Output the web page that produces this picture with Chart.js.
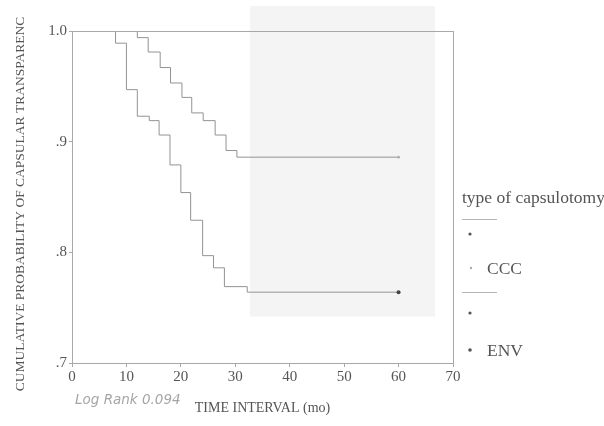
<!DOCTYPE html>
<html>
<head>
<meta charset="utf-8">
<script src="https://cdn.jsdelivr.net/npm/chart.js@4/dist/chart.umd.min.js"></script>
<style>
  body { margin: 0; background: #fff; }
  #wrap { width: 604px; height: 426px; }
</style>
</head>
<body>
<div id="wrap"><canvas id="km" width="604" height="426"></canvas></div>
<script>
// survival step points
const envTimes = [0, 8, 10, 12, 14.2, 16, 18, 20, 21.8, 24, 26, 28, 32.2, 60];
const envSurv = [1, .989, .947, .923, .919, .906, .879, .854, .829, .797, .786, .769, .764, .764];
const cccTimes = [0, 12, 14, 16.2, 18.1, 20.2, 22, 24.1, 26.3, 28.3, 30.3, 60];
const cccSurv = [1, .994, .981, .967, .953, .940, .926, .919, .906, .892, .886, .886];

const xTicks = [0, 10, 20, 30, 40, 50, 60, 70];
const yTicks = [.7, .8, .9, 1.0];
const yTickLabels = ['.7', '.8', '.9', '1.0'];

const legendTitle = 'type of capsulotomy';
const groupNames = ['CCC', 'ENV'];
const yTitle = 'CUMULATIVE PROBABILITY OF CAPSULAR TRANSPARENC';
const xTitle = 'TIME INTERVAL (mo)';
const note = 'Log Rank 0.094';

const ink = '#939393';
const txt = '#555';
const serif = '"Liberation Serif", "DejaVu Serif", serif';

function toPoints(ts, vs) {
    return ts.map((t, i) => ({ x: t, y: vs[i] }));
}

// last point gets the censor dot
function endDot(n, r) {
    return ctx => ctx.dataIndex === n - 1 ? r : 0;
}

const decor = {
    id: 'decor',
    beforeDraw(chart) {
        const c = chart.ctx;
        const xs = chart.scales.x, ys = chart.scales.y;
        // faint scan shading
        c.save();
        c.fillStyle = '#f4f4f4';
        const x0 = xs.getPixelForValue(32.7), x1 = xs.getPixelForValue(66.7);
        const y1 = ys.getPixelForValue(.742);
        c.fillRect(x0, 6, x1 - x0, y1 - 6);
        c.restore();
    },
    afterDraw(chart) {
        const c = chart.ctx;
        const a = chart.chartArea;
        c.save();
        // frame
        c.strokeStyle = '#a8a8a8';
        c.lineWidth = 1;
        c.strokeRect(a.left + 0.5, a.top + 0.5, a.right - a.left, a.bottom - a.top);

        // axis titles
        c.fillStyle = txt;
        c.textAlign = 'center';
        c.textBaseline = 'middle';
        c.font = '14px ' + serif;
        c.fillText(xTitle, (a.left + a.right) / 2, 408);

        c.save();
        c.translate(20, 204);
        c.rotate(-Math.PI / 2);
        c.font = '13.5px ' + serif;
        c.fillText(yTitle, 0, 0);
        c.restore();

        // handwritten note
        c.fillStyle = '#a5a5a5';
        c.textAlign = 'left';
        c.font = 'italic 13.5px "DejaVu Sans", sans-serif';
        c.fillText(note, 75, 400);

        // legend
        c.fillStyle = txt;
        c.font = '17.5px ' + serif;
        c.fillText(legendTitle, 462, 198);
        c.strokeStyle = '#b5b5b5';
        c.beginPath();
        c.moveTo(462, 219.5); c.lineTo(497, 219.5);
        c.moveTo(462, 292.5); c.lineTo(497, 292.5);
        c.stroke();

        const dots = [[470, 234, 1.6, '#555'], [471, 268, 1.2, '#aaa'], [470, 313, 1.6, '#555'], [470, 350, 1.8, '#555']];
        dots.forEach(d => {
            c.fillStyle = d[3];
            c.beginPath();
            c.arc(d[0], d[1], d[2], 0, Math.PI * 2);
            c.fill();
        });
        c.fillStyle = txt;
        c.fillText(groupNames[0], 487, 269);
        c.fillText(groupNames[1], 487, 351);
        c.restore();
    }
};

new Chart(document.getElementById('km'), {
    type: 'line',
    data: {
        datasets: [{
            label: groupNames[0],
            data: toPoints(cccTimes, cccSurv),
            stepped: true,
            borderColor: ink,
            borderWidth: 1,
            pointRadius: endDot(cccTimes.length, 1.3),
            pointBackgroundColor: '#aaa',
            pointBorderWidth: 0
        }, {
            label: groupNames[1],
            data: toPoints(envTimes, envSurv),
            stepped: true,
            borderColor: ink,
            borderWidth: 1,
            pointRadius: endDot(envTimes.length, 2),
            pointBackgroundColor: '#444',
            pointBorderWidth: 0
        }]
    },
    options: {
        responsive: false,
        animation: false,
        layout: { padding: { left: 0, right: 151, top: 31, bottom: 0 } },
        plugins: {
            legend: { display: false },
            tooltip: { enabled: false }
        },
        scales: {
            x: {
                type: 'linear',
                min: 0,
                max: 70,
                afterBuildTicks: s => { s.ticks = xTicks.map(v => ({ value: v })); },
                afterFit: s => { s.height = 63; },
                grid: { drawOnChartArea: false, tickLength: 4, color: '#a8a8a8' },
                border: { color: '#a8a8a8' },
                ticks: { color: txt, font: { family: serif, size: 15 }, padding: 1, maxRotation: 0 }
            },
            y: {
                type: 'linear',
                min: .7,
                max: 1.0,
                afterBuildTicks: s => { s.ticks = yTicks.map(v => ({ value: v })); },
                afterFit: s => { s.width = 72; },
                grid: { drawOnChartArea: false, tickLength: 3, color: '#a8a8a8' },
                border: { color: '#a8a8a8' },
                ticks: {
                    color: txt,
                    font: { family: serif, size: 15 },
                    padding: 2,
                    callback: v => yTickLabels[yTicks.findIndex(t => Math.abs(t - v) < 1e-6)]
                }
            }
        }
    },
    plugins: [decor]
});
</script>
</body>
</html>
